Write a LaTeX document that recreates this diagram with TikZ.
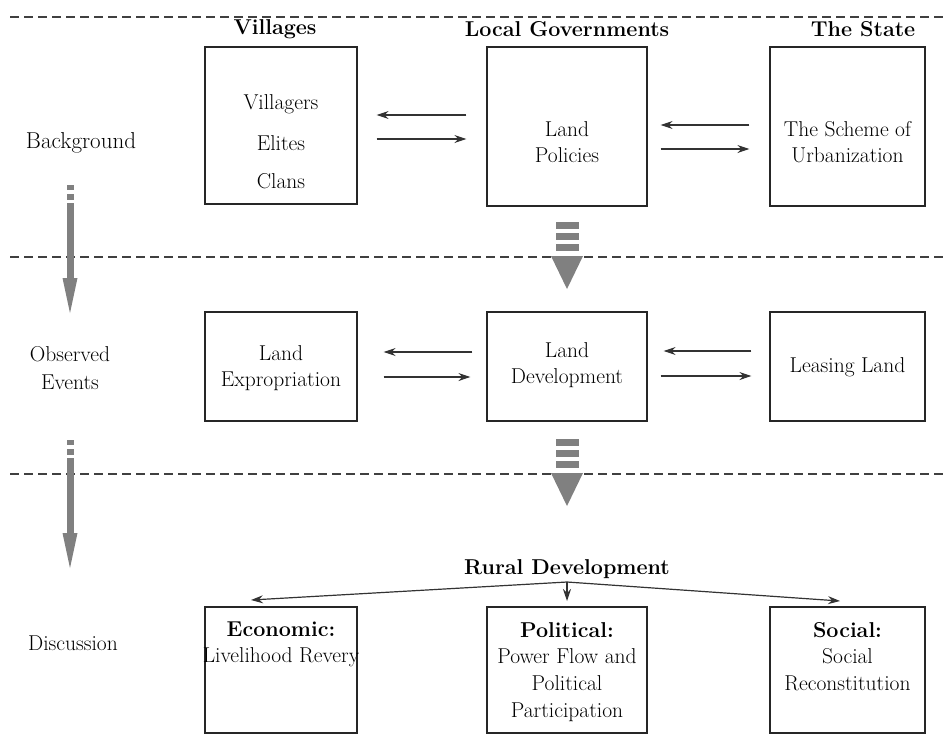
\documentclass[tikz,border=0pt]{standalone}
\usepackage{fontspec}
\usetikzlibrary{calc,arrows.meta}
\begin{document}
\begin{tikzpicture}[x=1pt,y=-1pt,
  box/.style={draw=black!85,line width=1.15pt,inner sep=0pt,fill=white},
  txt/.style={font=\fontsize{21.5}{25}\selectfont,inner sep=0pt,align=center},
  head/.style={font=\bfseries\fontsize{21.5}{25}\selectfont,inner sep=0pt},
  arr/.style={draw=black!80,line width=1.1pt,-{Stealth[length=12pt,width=8pt,inset=4pt]}},
  sep/.style={draw=black!75,line width=1.4pt,dash pattern=on 9pt off 5pt},
  blk/.style={fill=black!50,draw=none}]
\useasboundingbox (0,0) rectangle (944,753);
% dashed separators
\coordinate (d1a) at (10,17);  \coordinate (d1b) at (944,17);
\coordinate (d2a) at (10,257); \coordinate (d2b) at (944,257);
\coordinate (d3a) at (10,474); \coordinate (d3b) at (944,474);
\draw[sep] (d1a) -- (d1b);
\draw[sep] (d2a) -- (d2b);
\draw[sep] (d3a) -- (d3b);
% headings
\node[head] (hv) at (275,29) {Villages};
\node[head] (hl) at (567,29) {Local Governments};
\node[head] (hs) at (863,29) {The State};
% row labels
\node[txt,font=\fontsize{23}{27}\selectfont] (lb) at (81,143) {Background};
\node[txt] (lo) at (70,368) {Observed\\[3pt]Events};
\node[txt] (ld) at (73,643) {Discussion};
% row 1 boxes
\node[box,minimum width=152pt,minimum height=157pt] (v1) at (281,125.5) {};
\node[box,minimum width=160pt,minimum height=159pt] (l1) at (567,126.5) {};
\node[box,minimum width=155pt,minimum height=159pt] (s1) at (847.5,126.5) {};
\node[txt] (t11) at (281,104) {Villagers};
\node[txt] (t12) at (281,143) {Elites};
\node[txt] (t13) at (281,181) {Clans};
\node[txt] (t2) at (567,142) {Land\\[1pt]Policies};
\node[txt] (t3) at (847.5,142) {The Scheme of\\[1pt]Urbanization};
% row 1 arrows
\draw[arr] ($(l1.west)+(-20,-11.5)$) -- ($(v1.east)+(19,-10.5)$);
\draw[arr] ($(v1.east)+(19,13.5)$) -- ($(l1.west)+(-20,12.5)$);
\draw[arr] ($(s1.west)+(-20,-1.5)$) -- ($(l1.east)+(13,-1.5)$);
\draw[arr] ($(l1.east)+(13,22.5)$) -- ($(s1.west)+(-20,22.5)$);
% row 2 boxes
\node[box,minimum width=152pt,minimum height=109pt] (v2) at (281,366.5) {};
\node[box,minimum width=160pt,minimum height=109pt] (l2) at (567,366.5) {};
\node[box,minimum width=155pt,minimum height=109pt] (s2) at (847.5,366.5) {};
\node[txt] (u1) at (281,368) {Land\\[1pt]Expropriation};
\node[txt] (u2) at (567,365) {Land\\[1pt]Development};
\node[txt] (u3) at (847.5,367) {Leasing Land};
% row 2 arrows
\draw[arr] ($(l2.west)+(-14,-14.5)$) -- ($(v2.east)+(26,-14.5)$);
\draw[arr] ($(v2.east)+(26,10.5)$) -- ($(l2.west)+(-16,10.5)$);
\draw[arr] ($(s2.west)+(-18,-15.5)$) -- ($(l2.east)+(16,-15.5)$);
\draw[arr] ($(l2.east)+(13,9.5)$) -- ($(s2.west)+(-18,9.5)$);
% rural development
\node[head] (rd) at (567,569) {Rural Development};
\node[box,minimum width=152pt,minimum height=126pt] (e3) at (281,670) {};
\node[box,minimum width=160pt,minimum height=126pt] (p3) at (567,670) {};
\node[box,minimum width=155pt,minimum height=126pt] (s3) at (847.5,670) {};
\node[txt,anchor=north] (w1) at (281,622) {\textbf{Economic:}\\[1pt]Livelihood Revery};
\node[txt,anchor=north] (w2) at (567,622) {\textbf{Political:}\\[1pt]Power Flow and\\[2pt]Political\\[2pt]Participation};
\node[txt,anchor=north] (w3) at (847.5,622) {\textbf{Social:}\\[1pt]Social\\[2pt]Reconstitution};
\coordinate (ro) at (567,582);
\coordinate (ea) at (251,600);
\coordinate (pa) at (567,601);
\coordinate (sa) at (840,601);
\draw[arr,line width=1.2pt] (ro) -- (ea);
\draw[arr,line width=1.2pt] (ro) -- (pa);
\draw[arr,line width=1.2pt] (ro) -- (sa);
% gray block arrows (left)
\fill[blk] (66.5,185) rectangle (73.5,190);
\fill[blk] (66.5,194) rectangle (73.5,200);
\fill[blk] (66.5,203) rectangle (73.5,279);
\fill[blk] (62.5,278) -- (77.5,278) -- (70,313) -- cycle;
\fill[blk] (66.5,440) rectangle (73.5,445);
\fill[blk] (66.5,449) rectangle (73.5,455);
\fill[blk] (66.5,458) rectangle (73.5,534);
\fill[blk] (62.5,533) -- (77.5,533) -- (70,568) -- cycle;
% gray block arrows (middle)
\fill[blk] (555.5,222) rectangle (578.5,229);
\fill[blk] (555.5,233) rectangle (578.5,240);
\fill[blk] (555.5,244) rectangle (578.5,251);
\fill[blk] (551,256) -- (583,256) -- (567,289) -- cycle;
\fill[blk] (555.5,439) rectangle (578.5,446);
\fill[blk] (555.5,450) rectangle (578.5,457);
\fill[blk] (555.5,461) rectangle (578.5,468);
\fill[blk] (551,473) -- (583,473) -- (567,506) -- cycle;
\end{tikzpicture}
\end{document}
